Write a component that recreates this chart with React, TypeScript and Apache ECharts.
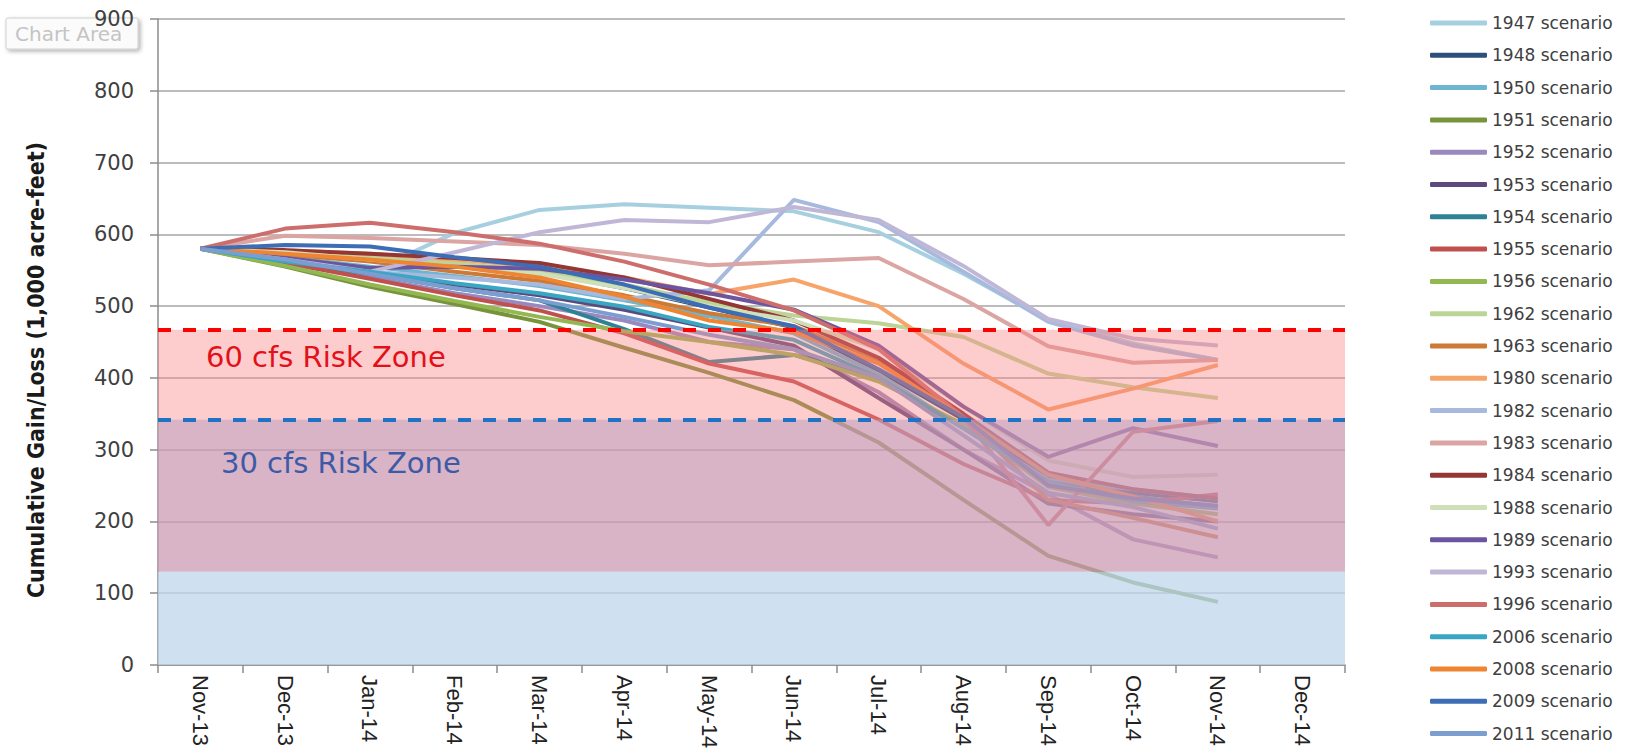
import React, { useEffect, useRef } from "react";
import * as echarts from "echarts";

const months = ["Nov-13", "Dec-13", "Jan-14", "Feb-14", "Mar-14", "Apr-14", "May-14", "Jun-14", "Jul-14", "Aug-14", "Sep-14", "Oct-14", "Nov-14", "Dec-14"];

const scenarioNames = ["1947 scenario", "1948 scenario", "1950 scenario", "1951 scenario", "1952 scenario", "1953 scenario", "1954 scenario", "1955 scenario", "1956 scenario", "1962 scenario", "1963 scenario", "1980 scenario", "1982 scenario", "1983 scenario", "1984 scenario", "1988 scenario", "1989 scenario", "1993 scenario", "1996 scenario", "2006 scenario", "2008 scenario", "2009 scenario", "2011 scenario"];

const scenarioColors = ["#a6cfe0", "#2c4f7c", "#6db5d1", "#77933c", "#9a89bf", "#5c4a7d", "#2f8296", "#c0504d", "#93b852", "#bcd596", "#cd7a37", "#f6a46a", "#a7bade", "#dba5a3", "#943634", "#cfe0b8", "#6c55a0", "#c0b7d7", "#cd6e6c", "#39a6c4", "#ee8533", "#3d6db4", "#7c9dd0"];

const v1947 = [580, 570, 548, 602, 634, 642, 637, 632, 603, 545, 480, 448, 425];
const v1948 = [580, 575, 568, 558, 547, 525, 498, 470, 410, 342, 262, 240, 228];
const v1950 = [580, 568, 555, 542, 528, 508, 486, 462, 405, 330, 258, 245, 232];
const v1951 = [580, 555, 527, 503, 478, 442, 407, 369, 310, 230, 152, 115, 88];
const v1952 = [580, 560, 540, 518, 500, 480, 450, 440, 380, 300, 238, 175, 150];
const v1953 = [580, 565, 548, 530, 515, 495, 470, 445, 372, 300, 225, 210, 200];
const v1954 = [580, 560, 545, 525, 508, 468, 422, 432, 398, 330, 255, 235, 220];
const v1955 = [580, 560, 538, 515, 494, 462, 420, 395, 342, 280, 230, 225, 238];
const v1956 = [580, 556, 530, 507, 485, 465, 450, 432, 395, 335, 248, 225, 210];
const v1962 = [580, 575, 568, 560, 548, 530, 505, 487, 476, 457, 406, 387, 372];
const v1963 = [580, 572, 562, 548, 535, 515, 490, 472, 425, 345, 230, 205, 178];
const v1980 = [580, 578, 573, 565, 555, 540, 517, 537, 500, 420, 356, 385, 418];
const v1982 = [580, 565, 548, 540, 530, 510, 522, 648, 617, 548, 478, 445, 425];
const v1983 = [580, 598, 595, 590, 585, 573, 557, 562, 567, 510, 444, 421, 425];
const v1984 = [580, 578, 573, 567, 560, 540, 510, 480, 428, 350, 268, 245, 232];
const v1988 = [580, 575, 565, 555, 545, 525, 500, 480, 440, 360, 285, 262, 265];
const v1989 = [580, 567, 553, 555, 552, 537, 518, 495, 445, 360, 290, 330, 305];
const v1993 = [580, 565, 548, 575, 603, 620, 617, 638, 620, 556, 482, 455, 445];
const v1996 = [580, 608, 616, 603, 587, 562, 530, 494, 440, 345, 195, 325, 340];
const v2006 = [580, 562, 548, 532, 518, 499, 471, 453, 400, 330, 255, 228, 218];
const v2008 = [580, 573, 565, 555, 540, 513, 480, 464, 420, 345, 265, 235, 200];
const v2009 = [580, 585, 583, 568, 555, 530, 498, 472, 412, 345, 250, 232, 222];
const v2011 = [580, 565, 545, 525, 508, 485, 460, 440, 400, 320, 240, 220, 190];

const scenarioValues = [v1947, v1948, v1950, v1951, v1952, v1953, v1954, v1955, v1956, v1962, v1963, v1980, v1982, v1983, v1984, v1988, v1989, v1993, v1996, v2006, v2008, v2009, v2011];

// risk bands (lower, upper) and thresholds
const bandLower = [0, 130, 342];
const bandUpper = [130, 342, 467];
const bandColors = ["rgba(191,214,236,0.75)", "rgba(204,152,178,0.74)", "rgba(250,130,130,0.4)"];
const risk60 = 467;
const risk30 = 342;

const yTitle = "Cumulative Gain/Loss (1,000 acre-feet)";

export default function App() {
  const ref = useRef<HTMLDivElement>(null);
  useEffect(() => {
    if (!ref.current) return;
    const chart = echarts.init(ref.current, null, { renderer: "svg" });
    const lineSeries = scenarioNames.map((name, i) => ({
      name,
      type: "line",
      data: scenarioValues[i],
      symbol: "none",
      showSymbol: false,
      z: 2,
      lineStyle: { width: 4, color: scenarioColors[i] },
      itemStyle: { color: scenarioColors[i] },
    }));
    const option: any = {
      animation: false,
      backgroundColor: "#ffffff",
      grid: { left: 158, right: 286, top: 19, bottom: 89, containLabel: false },
      legend: {
        orient: "vertical",
        left: 1425,
        top: 8,
        height: 746,
        itemWidth: 57,
        itemHeight: 5,
        itemGap: 12.3,
        icon: "roundRect",
        data: scenarioNames,
        textStyle: { fontFamily: "DejaVu Sans", fontSize: 17, color: "#404040", lineHeight: 20 },
      },
      xAxis: {
        type: "category",
        data: months,
        boundaryGap: true,
        axisLine: { lineStyle: { color: "#8c8c8c", width: 1.5 } },
        axisTick: { show: true, length: 8, lineStyle: { color: "#8c8c8c", width: 1.5 } },
        axisLabel: { rotate: -90, interval: 0, fontFamily: "Liberation Sans", fontSize: 22, color: "#222222", margin: 10 },
        splitLine: { show: false },
      },
      yAxis: {
        type: "value",
        min: 0,
        max: 900,
        interval: 100,
        axisLine: { show: true, lineStyle: { color: "#8c8c8c", width: 1.5 } },
        axisTick: { show: true, length: 8, lineStyle: { color: "#8c8c8c", width: 1.5 } },
        axisLabel: { fontFamily: "DejaVu Sans", fontSize: 21, color: "#404040", margin: 24 },
        splitLine: { lineStyle: { color: "#a6a6a6", width: 1.5 } },
      },
      series: [
        ...lineSeries,
        {
          name: "bands",
          type: "line",
          data: months.map(() => null),
          symbol: "none",
          silent: true,
          z: 5,
          markArea: {
            silent: true,
            z: 10,
            data: bandLower.map((lo, i) => [
              { yAxis: lo, itemStyle: { color: bandColors[i] } },
              { yAxis: bandUpper[i] },
            ]),
          },
          markLine: {
            silent: true,
            z: 11,
            symbol: ["none", "none"],
            label: { show: false },
            data: [
              { yAxis: risk60, lineStyle: { color: "#ff0000", type: [13, 12], width: 4 } },
              { yAxis: risk30, lineStyle: { color: "#1f72c4", type: [13, 12], width: 4 } },
            ],
          },
        },
      ],
      graphic: [
        {
          type: "rect",
          z: -1,
          shape: { x: 6, y: 18, width: 132, height: 31, r: 2 },
          style: { fill: "#fbfbfb", stroke: "#cfcfcf", lineWidth: 1, shadowBlur: 4, shadowOffsetX: 2, shadowOffsetY: 2, shadowColor: "rgba(0,0,0,0.3)" },
        },
        {
          type: "text",
          z: -1,
          x: 15,
          y: 34,
          style: { text: "Chart Area", font: '20px "DejaVu Sans"', fill: "#c4c4c4", verticalAlign: "middle" },
        },
        {
          type: "text",
          z: 100,
          x: 36,
          y: 370,
          rotation: Math.PI / 2,
          style: { text: yTitle, font: 'bold 23px "Liberation Sans Narrow", "DejaVu Sans Condensed", sans-serif', fill: "#1a1a1a", align: "center", verticalAlign: "middle" },
        },
        {
          type: "text",
          z: 100,
          x: 206,
          y: 357,
          style: { text: "60 cfs Risk Zone", font: '29px "DejaVu Sans"', fill: "#e3101a", verticalAlign: "middle" },
        },
        {
          type: "text",
          z: 100,
          x: 221,
          y: 463,
          style: { text: "30 cfs Risk Zone", font: '29px "DejaVu Sans"', fill: "#3d5aa6", verticalAlign: "middle" },
        },
      ],
    };
    chart.setOption(option);
    return () => chart.dispose();
  }, []);
  return <div ref={ref} style={{ position: "fixed", left: 0, top: 0, width: 1631, height: 754 }} />;
}
